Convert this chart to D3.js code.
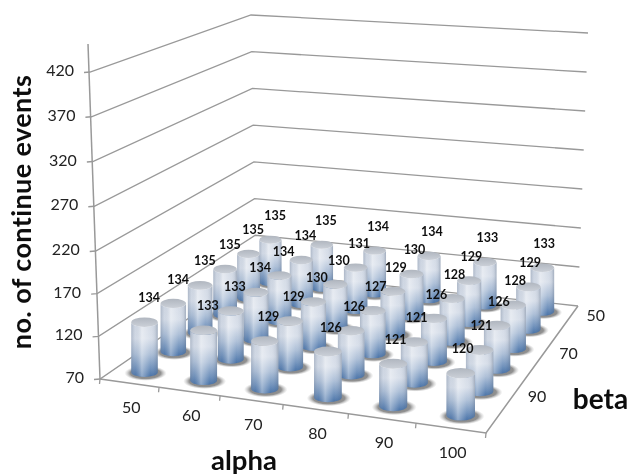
<!DOCTYPE html>
<html><head><meta charset="utf-8">
<script src="https://cdn.jsdelivr.net/npm/d3@7/dist/d3.min.js"></script>
<style>html,body{margin:0;background:#fff}svg{display:block}</style></head>
<body><svg width="630" height="475"></svg>
<script>
const alphaCats=[50,60,70,80,90,100];
const betaCats=[50,60,70,80,90,100];
const betaLabels=[50,70,90];
const zTicks=[70,120,170,220,270,320,370,420];
// rows by beta, columns by alpha
const beta50=[135,135,134,134,133,133];
const beta60=[135,134,131,130,129,129];
const beta70=[135,134,130,129,128,128];
const beta80=[135,134,130,127,126,126];
const beta90=[134,133,129,126,121,121];
const beta100=[134,133,129,126,121,120];
const rows=[beta50,beta60,beta70,beta80,beta90,beta100];

const svg=d3.select("svg");
const FONT="Lato, 'Open Sans', sans-serif";
const defs=svg.append("defs");
const body=defs.append("linearGradient").attr("id","vert").attr("x1",0).attr("y1",0).attr("x2",0).attr("y2",1);
[[0,"#d3dae5"],[.3,"#d8dfea"],[.58,"#aabdd6"],[.84,"#6a8db9"],[1,"#3f6ba3"]].forEach(d=>body.append("stop").attr("offset",d[0]).attr("stop-color",d[1]));
const side=defs.append("linearGradient").attr("id","side");
[[0,"#6f7f97",.4],[.15,"#9aa7ba",.12],[.4,"#ffffff",.42],[.72,"#ffffff",.05],[.9,"#6f7f97",.15],[1,"#5a6b83",.42]].forEach(d=>side.append("stop").attr("offset",d[0]).attr("stop-color",d[1]).attr("stop-opacity",d[2]));
const topG=defs.append("linearGradient").attr("id","topg").attr("x1",0).attr("y1",0).attr("x2",0).attr("y2",1);
[[0,"#b0b6bf"],[1,"#cbd0d8"]].forEach(d=>topG.append("stop").attr("offset",d[0]).attr("stop-color",d[1]));
const sh=defs.append("radialGradient").attr("id","shadow");
[[0,"#777",1],[.72,"#858585",.9],[1,"#bbb",0]].forEach(d=>sh.append("stop").attr("offset",d[0]).attr("stop-color",d[1]).attr("stop-opacity",d[2]));
defs.append("filter").attr("id","soft").append("feGaussianBlur").attr("stdDeviation",.65);

// scales: normalised floor coordinates
const uScale=d3.scaleBand().domain(alphaCats).range([0,1]);
const vScale=d3.scaleBand().domain(betaCats).range([1,0]);
const zFrac=d3.scaleLinear().domain([70,420]).range([0,350]);
// perspective through the floor corners
const cA=[100,379],cB=[486,433],cC=[578,306],cD=[256,272];
function homography(p0,p1,p2,p3){
  const dx1=p1[0]-p2[0],dx2=p3[0]-p2[0],dx3=p0[0]-p1[0]+p2[0]-p3[0];
  const dy1=p1[1]-p2[1],dy2=p3[1]-p2[1],dy3=p0[1]-p1[1]+p2[1]-p3[1];
  const det=dx1*dy2-dx2*dy1;
  const g=(dx3*dy2-dx2*dy3)/det,h=(dx1*dy3-dx3*dy1)/det;
  const a=p1[0]-p0[0]+g*p1[0],b=p3[0]-p0[0]+h*p3[0],c=p0[0];
  const d=p1[1]-p0[1]+g*p1[1],e=p3[1]-p0[1]+h*p3[1],f=p0[1];
  return (u,v)=>{const w=g*u+h*v+1;return [(a*u+b*v+c)/w,(d*u+e*v+f)/w];};
}
const floor=homography(cA,cB,cC,cD);
const line=d3.line().curve(d3.curveLinear);
const g=svg.append("g").attr("filter","url(#soft)");
const GRID="#999";

// walls: gridlines from left axis to back corner to right edge
const leftY=d3.scaleLinear().domain([70,220,420]).range([379,251,72]);
const leftX=d3.scaleLinear().domain([70,420]).range([100,90]);
const backY=d3.scaleLinear().domain([70,420]).range([272,15]);
const backX=d3.scaleLinear().domain([70,420]).range([256,251]);
const rightY=d3.scaleLinear().domain([70,420]).range([306,33]);
const rightX=d3.scaleLinear().domain([70,420]).range([578,588]);
zTicks.forEach(t=>{
  g.append("path").attr("fill","none").attr("stroke",GRID).attr("stroke-width",1.3)
   .attr("d",line([[leftX(t)-6,leftY(t)+.5],[leftX(t),leftY(t)],[backX(t),backY(t)],[rightX(t),rightY(t)]]));
  g.append("text").attr("x",leftX(t)-16).attr("y",leftY(t)).attr("text-anchor","end").attr("dominant-baseline","middle")
   .attr("font-family",FONT).attr("font-size",16).attr("fill","#222").text(t);
});
g.append("path").attr("fill","none").attr("stroke",GRID).attr("stroke-width",1.5).attr("d",line([[88,44],[cA[0],cA[1]]]));
// floor edges and ticks
g.append("path").attr("fill","none").attr("stroke",GRID).attr("stroke-width",1.5).attr("d",line([cA,cB,cC]));
d3.range(0,7).forEach(i=>{const p=floor(i/6,0);
  g.append("path").attr("stroke",GRID).attr("stroke-width",1.3).attr("d",line([p,[p[0]-.5,p[1]+5]]));});

// cylinders back to front
const cells=[];
betaCats.forEach((b,r)=>alphaCats.forEach((a,c)=>cells.push({a,b,val:rows[r][c]})));
const kScale=d3.scaleLinear().domain([280,413]).range([.65,.84]);
const rxScale=d3.scaleLinear().domain([280,413]).range([11,14.2]);
cells.sort((p,q)=>d3.ascending(p.b,q.b)||d3.ascending(p.a,q.a));
const cyl=g.selectAll("g.c").data(cells).join("g").attr("class","c");
cyl.each(function(d){
  const u=uScale(d.a)+uScale.bandwidth()/2,v=vScale(d.b)+vScale.bandwidth()/2;
  const [x,y]=floor(u,v);
  const rx=rxScale(y),ry=rx*.36;
  const h=zFrac(d.val)*kScale(y);
  const s=d3.select(this);
  s.append("ellipse").attr("cx",x+1).attr("cy",y+1).attr("rx",rx*1.6).attr("ry",ry*1.6).attr("fill","url(#shadow)");
  const p=`M${x-rx},${y-h}L${x-rx},${y}A${rx},${ry} 0 0 0 ${x+rx},${y}L${x+rx},${y-h}A${rx},${ry} 0 0 1 ${x-rx},${y-h}Z`;
  s.append("path").attr("d",p).attr("fill","url(#vert)");
  s.append("path").attr("d",p).attr("fill","url(#side)");
  s.append("ellipse").attr("cx",x).attr("cy",y-h).attr("rx",rx).attr("ry",ry).attr("fill","url(#topg)");
  d.tx=x+5-3.5*u; d.ty=y-h-23;
});
// data labels on top
g.selectAll("text.v").data(cells).join("text").attr("class","v")
 .attr("x",d=>d.tx).attr("y",d=>d.ty).attr("text-anchor","middle").attr("dominant-baseline","middle")
 .attr("font-family",FONT).attr("font-size",12.5).attr("font-weight",700).attr("fill","#111").text(d=>d.val);

// alpha labels
alphaCats.forEach(a=>{const p=floor(uScale(a)+uScale.bandwidth()/2,0);
  g.append("text").attr("x",p[0]+2).attr("y",p[1]+25.5).attr("text-anchor","middle").attr("dominant-baseline","middle")
   .attr("font-family",FONT).attr("font-size",16).attr("fill","#222").text(a);});
betaLabels.forEach(b=>{const p=floor(1,vScale(b)+vScale.bandwidth()/2);
  g.append("text").attr("x",p[0]+24).attr("y",p[1]+2.5).attr("text-anchor","middle").attr("dominant-baseline","middle")
   .attr("font-family",FONT).attr("font-size",16).attr("fill","#222").text(b);});

g.append("text").attr("x",600.5).attr("y",402).attr("text-anchor","middle").attr("dominant-baseline","middle")
 .attr("font-family",FONT).attr("font-size",28).attr("font-weight",700).attr("fill","#111").text("beta");
g.append("text").attr("x",244).attr("y",463).attr("text-anchor","middle").attr("dominant-baseline","middle")
 .attr("font-family",FONT).attr("font-size",27.5).attr("font-weight",700).attr("fill","#111").text("alpha");
g.append("text").attr("transform","translate(24,212) rotate(-90)").attr("text-anchor","middle").attr("dominant-baseline","middle")
 .attr("font-family",FONT).attr("font-size",27).attr("font-weight",700).attr("letter-spacing",.4).attr("fill","#111").text("no. of continue events");
</script></body></html>
